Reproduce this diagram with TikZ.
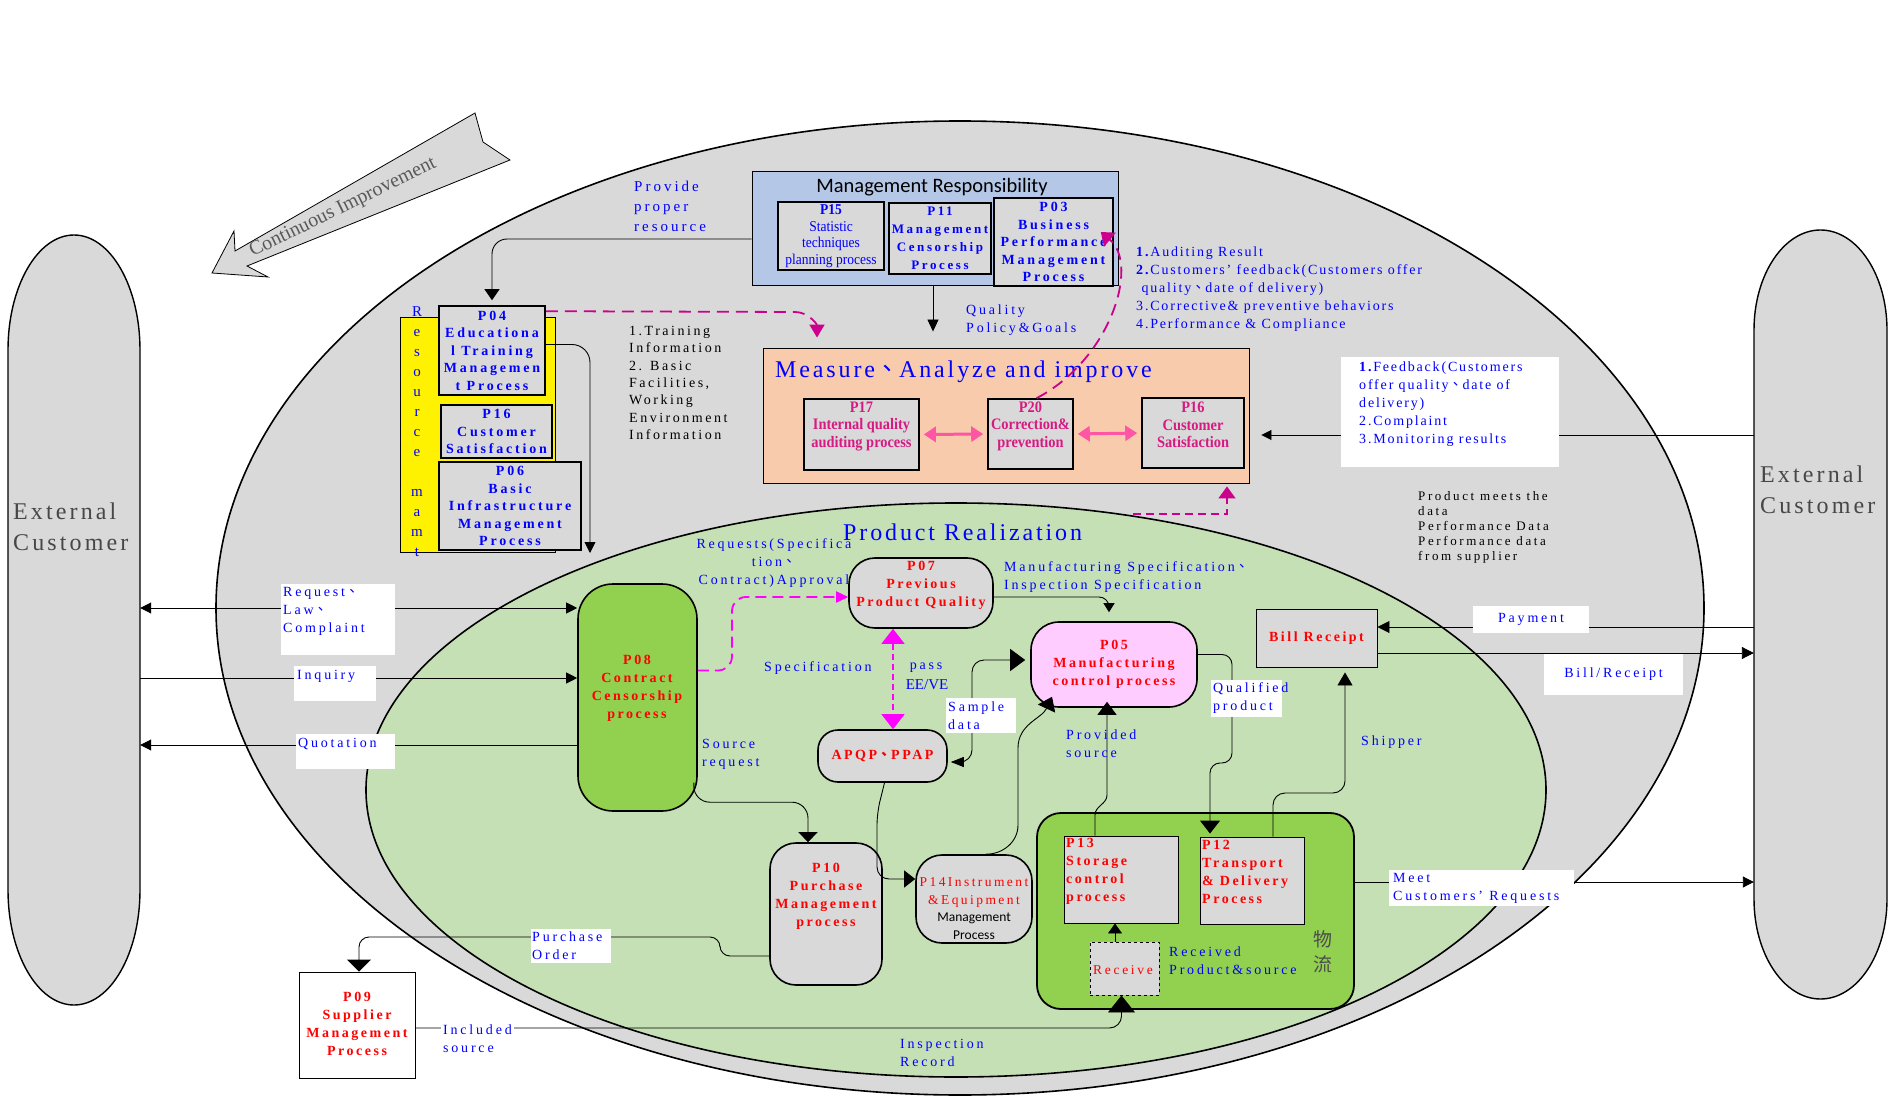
\documentclass[tikz,border=0pt]{standalone}
\usepackage{fontspec}
\setmainfont{Liberation Serif}
\newfontfamily\lsA[LetterSpace=20]{Liberation Serif}
\newfontfamily\lsT[LetterSpace=18]{Liberation Serif}
\newfontfamily\lsD[LetterSpace=13]{Liberation Serif}
\newfontfamily\lsE[LetterSpace=12]{Liberation Serif}
\newfontfamily\cnd[FakeStretch=0.9]{Liberation Serif}
\newfontfamily\carl{Carlito}
\newfontfamily\cjk{Noto Sans CJK TC}
\newcommand\dun{{\cjk 、}}
\usetikzlibrary{arrows.meta,calc}
\definecolor{gr}{HTML}{D9D9D9}
\definecolor{lg}{HTML}{C5E0B4}
\definecolor{gg}{HTML}{92D050}
\definecolor{lb}{HTML}{B4C7E7}
\definecolor{pe}{HTML}{F8CBAD}
\definecolor{pk}{HTML}{FFCCFF}
\definecolor{bl}{HTML}{0000FF}
\definecolor{mg}{HTML}{D71A82}
\definecolor{dm}{HTML}{CC008C}
\definecolor{hp}{HTML}{FF55A5}
\definecolor{fm}{HTML}{FF00FF}
\tikzset{
  sz/.style 2 args={minimum width=#1pt,minimum height=#2pt},
  pbox/.style={draw,line width=1.6pt,fill=gr,inner sep=0pt,align=center},
  tbox/.style={draw,line width=0.9pt,inner sep=0pt,align=center},
  wb/.style={fill=white,inner sep=0pt},
  lab/.style={font=\lsA\fontsize{14}{18}\selectfont,text=bl,inner sep=0pt,align=left},
  labT/.style={font=\lsD\fontsize{14}{18}\selectfont,text=bl,inner sep=0pt,align=left},
  bbt/.style={font=\lsA\bfseries\fontsize{14}{17.5}\selectfont,text=bl},
  rtx/.style={font=\lsT\bfseries\fontsize{14}{18}\selectfont,text=red,inner sep=0pt,align=center},
  mtx/.style={font=\cnd\bfseries\fontsize{16}{17.5}\selectfont,text=mg,inner sep=0pt,align=center},
  ext/.style={font=\lsD\fontsize{24}{31}\selectfont,text=black!72,inner sep=0pt,align=left},
  ttl/.style={font=\lsE\fontsize{24}{28}\selectfont,text=bl,anchor=west,inner sep=0pt},
  cn/.style={line width=0.9pt},
  ah/.style 2 args={arrows=-{Triangle[width=#1pt,length=#2pt]}},
  dah/.style 2 args={arrows={Triangle[width=#1pt,length=#2pt]}-{Triangle[width=#1pt,length=#2pt]}},
  dsh/.style={line width=1.8pt,dash pattern=on 12pt off 7pt}
}
\begin{document}
\begin{tikzpicture}[x=1pt,y=-1pt]
\useasboundingbox (0,0) rectangle (1899,1099);
\fill[white] (0,0) rectangle (1899,1099);

% y levels
\coordinate (y608) at (0,608);
\coordinate (y678) at (0,678);
\coordinate (y745) at (0,745);
\coordinate (y435) at (0,435);
\coordinate (y627) at (0,627);
\coordinate (y653) at (0,653);
\coordinate (y882) at (0,882);

% External customers
\draw[fill=gr,line width=1.4pt] (8,350) arc[start angle=180,end angle=0,x radius=66pt,y radius=115pt] -- (140,890) arc[start angle=0,end angle=-180,x radius=66pt,y radius=115pt] -- cycle;
\node[sz={132}{770},inner sep=0pt] (EL) at (74,620) {};
\node[ext,anchor=west] at (13,527) {External\\Customer};
\draw[fill=gr,line width=1.4pt] (1754,330) arc[start angle=180,end angle=0,x radius=66.5pt,y radius=100pt] -- (1887,899) arc[start angle=0,end angle=-180,x radius=66.5pt,y radius=100pt] -- cycle;
\node[sz={133}{769},inner sep=0pt] (ER) at (1820.5,614.5) {};
\node[ext,anchor=west] at (1760,490) {External\\Customer};

% Continuous improvement arrow
\draw[fill=gr,line width=0.8pt] (212,273) -- (234,231) -- (235,251) -- (475,113) -- (483,142) -- (510,160) -- (247,266) -- (268,277) -- cycle;
\node[font=\fontsize{20}{22}\selectfont,text=black!65,rotate=26] at (343,208) {Continuous Improvement};

% ellipses
\draw[fill=gr,line width=1.6pt] (960,608) ellipse [x radius=744pt,y radius=487pt];
\draw[fill=lg,line width=1.6pt] (956,790) ellipse [x radius=590pt,y radius=287pt];

% Management responsibility
\node[tbox,fill=lb,sz={366}{114}] (MR) at (935,228) {};
\node[font=\carl\fontsize{20.5}{24}\selectfont] at (932,187) {Management Responsibility};
\node[pbox,sz={106}{68},font=\cnd\fontsize{15}{16.5}\selectfont,text=bl] (P15) at (831,236) {\textbf{P15}\\Statistic\\techniques\\planning process};
\node[pbox,sz={102}{71},bbt,font=\lsA\bfseries\fontsize{13}{18}\selectfont] (P11) at (940,238.5) {P11\\Management\\Censorship\\Process};
\node[pbox,sz={119}{88},bbt] (P03) at (1053.5,242) {P03\\Business\\Performance\\Management\\Process};

% Measure
\node[tbox,fill=pe,sz={486}{135}] (MEAS) at (1006,415.5) {};
\node[ttl] at (775,372) {Measure\dun Analyze and improve};
\node[pbox,sz={115}{71}] (P17) at (861.5,434.5) {};
\node[mtx] at (861.5,426) {P17\\Internal quality\\auditing process};
\node[pbox,sz={85}{70}] (P20) at (1030.5,434) {};
\node[mtx] at (1030.5,426) {P20\\Correction\&\\prevention};
\node[pbox,sz={102}{70}] (P16m) at (1193,433) {};
\node[mtx] at (1193,425) {P16\\Customer\\Satisfaction};

% Resource management
\node[tbox,fill=yellow,sz={155}{235}] (YEL) at (477.5,434.5) {};
\node[font=\fontsize{15}{20}\selectfont,text=bl,align=center,inner sep=0pt] at (417,432) {R\\e\\s\\o\\u\\r\\c\\e\\[20pt]m\\a\\m\\t};
\node[pbox,sz={106}{89},bbt] (P04) at (492,350.5) {P04\\Educationa\\l Training\\Managemen\\t Process};
\node[pbox,sz={111}{53},bbt] (P16r) at (496.5,431.5) {P16\\Customer\\Satisfaction};
\node[pbox,sz={142}{88},bbt] (P06) at (510,506) {P06\\Basic\\Infrastructure\\Management\\Process};

% Product realization nodes
\node[ttl] at (843,532) {Product Realization};
\node[pbox,fill=gg,rounded corners=35pt,sz={119}{227}] (P08) at (637.5,697.5) {};
\node[rtx] at (637,688) {P08\\Contract\\Censorship\\process};
\node[pbox,rounded corners=26pt,sz={144}{70}] (P07) at (921,593) {};
\node[rtx] at (921,585) {P07\\Previous\\Product Quality};
\node[pbox,rounded corners=20pt,sz={129}{52},rtx,draw,line width=1.6pt,fill=gr] (APQP) at (882.5,756) {APQP\dun PPAP};
\node[pbox,fill=pk,rounded corners=28pt,sz={166}{85},rtx,draw,line width=1.6pt] (P05) at (1114,664.5) {P05\\Manufacturing\\control process};
\node[tbox,fill=gr,sz={121}{58},rtx,draw,line width=0.9pt] (BR) at (1316.5,638) {Bill Receipt};
\node[pbox,rounded corners=26pt,sz={112}{142}] (P10) at (826,914) {};
\node[rtx] at (826,896) {P10\\Purchase\\Management\\process};
\node[pbox,rounded corners=26pt,sz={116}{88}] (P14) at (974,899) {};
\node[align=center,inner sep=0pt,font=\fontsize{13.5}{17.5}\selectfont] at (974,908.5) {{\lsT\color{red}P14Instrument}\\{\lsT\color{red}\&Equipment}\\{\carl\fontsize{13.5}{17.5}\selectfont Management}\\{\carl\fontsize{13.5}{17.5}\selectfont Process}};
\node[draw,line width=1.8pt,fill=gg,rounded corners=24pt,sz={317}{196},inner sep=0pt] (LOG) at (1195.5,911) {};
\node[tbox,fill=gr,sz={114}{87}] (P13) at (1121,879.5) {};
\node[rtx,align=left,anchor=west] at (1066,871) {P13\\Storage\\control\\process};
\node[tbox,fill=gr,sz={104}{87}] (P12) at (1252,880.5) {};
\node[rtx,align=left,anchor=west] at (1202,871.5) {P12\\Transport\\\& Delivery\\Process};
\node[tbox,dashed,fill=gr,sz={69}{53}] (RCV) at (1124.5,968.5) {};
\node[font=\lsA\fontsize{13.5}{18}\selectfont,text=red,inner sep=0pt] at (1123,970) {Receive};
\node[lab,anchor=west] at (1169,961) {Received\\Product\&source};
\node[font=\cjk\fontsize{19}{25}\selectfont,text=black!70,align=center,inner sep=0pt] at (1323,952) {物\\流};
\node[tbox,fill=white,sz={116}{106}] (P09) at (357,1025) {};
\node[rtx] at (357,1024) {P09\\Supplier\\Management\\Process};

% ---------- connectors ----------
\draw[cn,ah={15}{11},rounded corners=15pt,shorten >=5pt] ([yshift=-11pt]MR.west) -| (P04.north);
\node[lab,font=\lsA\fontsize{15}{20}\selectfont,anchor=west] at (634,206) {Provide\\proper\\resource};
\coordinate (c1) at (590,553);
\draw[cn,ah={11}{11},rounded corners=18pt] ([yshift=6pt]P04.east) -| (c1);
\draw[dm,dsh,ah={15}{13}] ([yshift=-6pt]P04.north east) -- (795,312) to[out=0,in=90] ([xshift=-189pt,yshift=10pt]MEAS.north);
\node[font=\lsT\fontsize{14}{17.4}\selectfont,inner sep=0pt,align=left,anchor=west] at (629,383) {1.Training\\Information\\2. Basic\\Facilities,\\Working\\Environment\\Information};
\draw[cn,ah={11}{12}] ([xshift=-2pt]MR.south) -- ([xshift=-73pt,yshift=16pt]MEAS.north);
\node[lab,anchor=west] at (966,320) {Quality\\Policy\&Goals};
\draw[dm,dsh,ah={18}{12}] ([xshift=6pt]P20.north) .. controls (1110,360) and (1140,265) .. ([xshift=-13pt,yshift=10pt]P03.east);
\node[labT,anchor=west] at (1136,289.5) {\textbf{1.}Auditing Result\\\textbf{2.}Customers’\ feedback(Customers offer\\\ quality\dun date of delivery)\\3.Corrective\& preventive behaviors\\4.Performance \& Compliance};
\draw[hp,line width=3pt,dah={15}{12},shorten <=4pt,shorten >=4pt] (P17.east) -- (P20.west);
\draw[hp,line width=3pt,dah={15}{12},shorten <=4pt,shorten >=4pt] (P20.east) -- (P16m.west);

% feedback
\draw[cn,ah={10}{10}] (ER.west |- y435) -- ([xshift=12pt,yshift=-19.5pt]MEAS.east);
\node[wb,sz={218}{110}] (FB) at (1450,412) {};
\node[labT,anchor=west] at (1359,404) {\textbf{1.}Feedback(Customers\\offer quality\dun date of\\delivery)\\2.Complaint\\3.Monitoring results};
\node[font=\lsA\fontsize{13}{15}\selectfont,inner sep=0pt,align=left,anchor=west] at (1418,527) {Product meets the\\data\\Performance Data\\Performance data\\from supplier};

% realization -> measure
\coordinate (pr) at (1133,514);
\draw[dm,line width=1.5pt,dash pattern=on 8pt off 5pt,ah={17}{12}] (pr) -| ([xshift=221pt,yshift=-3pt]MEAS.south);

% left customer arrows
\draw[cn,dah={11}{11}] (EL.east |- y608) -- (P08.west |- y608);
\draw[cn,ah={11}{11}] (EL.east |- y678) -- (P08.west |- y678);
\draw[cn,ah={11}{11}] (P08.west |- y745) -- (EL.east |- y745);
\node[wb,sz={114}{71},anchor=north west] (LB1) at (281,584) {};
\node[lab,anchor=west] at (283,611) {Request\dun\\Law\dun\\Complaint};
\node[wb,sz={82}{35},anchor=north west] (LB2) at (294,666) {};
\node[lab,anchor=west] at (297,676) {Inquiry};
\node[wb,sz={99}{35},anchor=north west] (LB3) at (296,734) {};
\node[lab,anchor=west] at (298,744) {Quotation};

% P08 -> P07
\coordinate (k1) at (732,597);
\draw[fm,line width=1.8pt,dash pattern=on 11pt off 6pt,ah={11}{12},rounded corners=14pt] ([yshift=27pt]P08.east) -| (k1) -- ([yshift=-4pt]P07.west);
\node[lab,align=center] at (774,563) {Requests(Specifica\\tion\dun\\Contract)Approval};
% P07 <-> APQP
\draw[fm,line width=1.2pt,dash pattern=on 6pt off 4pt,dah={23}{15}] ([xshift=-28pt]P07.south) -- ([xshift=10.5pt]APQP.north);
\node[lab,anchor=west] at (764,668) {Specification};
\node[lab,align=center] at (926,668) {pass};
\node[font=\fontsize{15}{16}\selectfont,text=bl,inner sep=0pt] at (927,685) {EE/VE};
% P07 -> P05
\draw[cn,ah={11}{9},rounded corners=10pt,shorten >=9pt] ([yshift=-4pt]P07.east) -| ([xshift=-5pt]P05.north);
\node[lab,anchor=west] at (1004,577.5) {Manufacturing Specification\dun\\Inspection Specification};
% P08 -> P10
\draw[cn,ah={19}{10},rounded corners=16pt] ([xshift=-4pt,yshift=-85pt]P08.east) |- ([xshift=-18pt,yshift=40pt]P10.north) -- ([xshift=-18pt]P10.north);
\node[lab,anchor=west] at (702,754.5) {Source\\request};
% APQP -> P14
\draw[cn,ah={17}{11},rounded corners=12pt] ([xshift=2pt]APQP.south) -- (877,813) -- (877,879) -- ([yshift=20pt]P14.west);
% sample data
\coordinate (k2) at (972,660);
\draw[cn,arrows={Triangle[width=10pt,length=13pt]}-{Triangle[width=22pt,length=15pt]},rounded corners=12pt,shorten >=5pt,shorten <=3pt] ([yshift=-6pt]APQP.east) -| (k2) -- ([yshift=4.5pt]P05.west);
\node[wb,sz={70}{35}] (LB4) at (981,715.5) {};
\node[lab,anchor=west] at (948,715.5) {Sample\\data};
% P14 -> P05
\draw[cn,ah={19}{13}] ([xshift=12pt]P14.north) to[out=0,in=-90] (1018,825) -- (1018,748) to[out=90,in=-115] ([xshift=-62pt,yshift=11pt]P05.south);
% P13 -> P05
\draw[cn,ah={19}{13}] ([xshift=-26pt]P13.north) -- (1095,815) to[out=90,in=-90] (1107,795) -- ([xshift=-7pt,yshift=6pt]P05.south);
\node[lab,anchor=west] at (1066,743.5) {Provided\\source};
% P05 -> P12
\draw[cn,ah={20}{13},rounded corners=10pt,shorten >=3pt] ([yshift=10pt]P05.east) -| (1232,763) -| ([xshift=-42pt]P12.north);
\node[wb,sz={71}{37}] (LB5) at (1246.5,698.5) {};
\node[lab,anchor=west] at (1213,698.5) {Qualified\\product};
% P12 -> Bill receipt
\draw[cn,ah={15}{13},rounded corners=12pt,shorten >=5pt] ([xshift=21pt]P12.north) |- (1345,793) -- ([xshift=28.5pt]BR.south);
\node[lab,anchor=west] at (1361,742) {Shipper};
% receive -> P13
\draw[cn,ah={14}{10}] ([xshift=-9.5pt]RCV.north) -- ([xshift=-6pt]P13.south);
% P09 -> receive
\draw[cn,ah={27}{17},rounded corners=12pt] ([yshift=-3pt]P09.east) -| ([xshift=-3pt]RCV.south);
\node[lab,fill=white,inner sep=2pt,anchor=west] at (441,1038.5) {Included\\source};
\node[lab,anchor=west] at (900,1053) {Inspection\\Record};
% P10 -> P09
\draw[cn,ah={24}{12},rounded corners=10pt] ([yshift=-42pt]P10.west) -| (720,937) -| ([xshift=2pt]P09.north);
\node[wb,sz={80}{34}] (LB6) at (571,946) {};
\node[lab,anchor=west] at (532,946) {Purchase\\Order};

% right customer arrows
\draw[cn,ah={12}{12}] (ER.west |- y627) -- (BR.east |- y627);
\node[wb,sz={116}{27},lab,align=center,inner sep=0pt] (LB7) at (1531,619.5) {Payment};
\draw[cn,ah={12}{12}] (BR.east |- y653) -- (ER.west |- y653);
\node[wb,sz={139}{41},lab,align=center,inner sep=0pt] (LB8) at (1613.5,674.5) {Bill/Receipt};
\draw[cn,ah={11}{11}] (LOG.east |- y882) -- (ER.west |- y882);
\node[wb,sz={185}{36}] (LB9) at (1481.5,888) {};
\node[lab,anchor=west] at (1393,888) {Meet\\Customers’\ Requests};
\end{tikzpicture}
\end{document}
